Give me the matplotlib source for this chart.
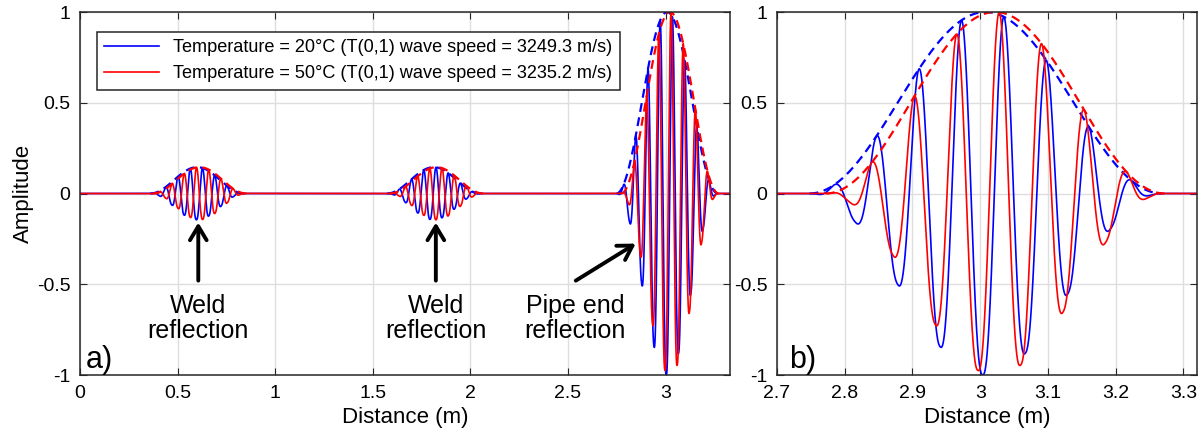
import numpy as np
import matplotlib
matplotlib.use("Agg")
import matplotlib.pyplot as plt

plt.rcParams["font.family"] = ["Liberation Sans", "DejaVu Sans"]

# Reflections: weld 1, weld 2, pipe end
amplitude = [0.145, 0.145, 1.0]
centre_20C = [0.600, 1.812, 3.008]   # envelope centre (m)
centre_50C = [0.612, 1.826, 3.022]
crest_20C = [0.565, 1.761, 3.035]    # a carrier crest position (m)
crest_50C = [0.597, 1.792, 3.028]
width_20C = [0.48, 0.48, 0.52]       # envelope length (m)
width_50C = [0.48, 0.48, 0.50]
wavelength = 0.0628                  # T(0,1) carrier wavelength (m)
crest_sharpness = 1.25               # crests look narrower than troughs

labels = ["Temperature = 20°C (T(0,1) wave speed = 3249.3 m/s)",
          "Temperature = 50°C (T(0,1) wave speed = 3235.2 m/s)"]
colors = ["#0000ff", "#ff0000"]

x = np.linspace(0, 3.33, 30000)


def hann(x, c, w):
    u = (x - c) / w
    return np.where(np.abs(u) <= 0.5, 0.5 * (1 + np.cos(2 * np.pi * u)), 0.0)


def trace(centres, crests, widths):
    sig = np.zeros_like(x)
    envs = []
    for a, c, k, w in zip(amplitude, centres, crests, widths):
        env = a * hann(x, c, w)
        carrier = 0.5 * (1 + np.cos(2 * np.pi * (x - k) / wavelength))
        sig += env * (2 * carrier ** crest_sharpness - 1)
        mask = np.abs(x - c) <= w / 2
        envs.append((x[mask], env[mask]))
    return sig, envs


series = [trace(centre_20C, crest_20C, width_20C),
          trace(centre_50C, crest_50C, width_50C)]

fig = plt.figure(figsize=(12.01, 4.4), dpi=100)
ax1 = fig.add_axes([80 / 1201, 65 / 440, 650 / 1201, 363 / 440])
ax2 = fig.add_axes([777 / 1201, 65 / 440, 420 / 1201, 363 / 440])

for ax in (ax1, ax2):
    handles = []
    for (sig, envs), col, lab in zip(series, colors, labels):
        h, = ax.plot(x, sig, color=col, lw=1.2, label=lab)
        handles.append(h)
        for ex, ey in envs:
            ax.plot(ex, ey, color=col, lw=1.6, ls=(0, (4, 2.5)))
    ax.set_ylim(-1, 1)
    ax.set_yticks([-1, -0.5, 0, 0.5, 1])
    ax.set_yticklabels(["-1", "-0.5", "0", "0.5", "1"])
    ax.grid(True, color="#dedede", lw=1)
    ax.set_axisbelow(True)
    ax.tick_params(direction="in", top=True, right=True, length=5,
                   labelsize=14, color="#262626", pad=7)
    for s in ax.spines.values():
        s.set_color("#262626")
        s.set_linewidth(1.1)
    ax.set_xlabel("Distance (m)", fontsize=16, labelpad=4)

ax1.set_xlim(0, 3.33)
ax1.set_xticks([0, 0.5, 1, 1.5, 2, 2.5, 3])
ax1.set_xticklabels(["0", "0.5", "1", "1.5", "2", "2.5", "3"])
ax1.set_ylabel("Amplitude", fontsize=16, labelpad=2)
ax2.set_xlim(2.7, 3.32)
ax2.set_xticks([2.7, 2.8, 2.9, 3.0, 3.1, 3.2, 3.3])
ax2.set_xticklabels(["2.7", "2.8", "2.9", "3", "3.1", "3.2", "3.3"])

leg = ax1.legend(handles=handles, loc="upper left", bbox_to_anchor=(0.026, 0.945),
                 borderaxespad=0, fontsize=13.1, handlelength=3.0, fancybox=False,
                 framealpha=1, edgecolor="#262626")
leg.get_frame().set_linewidth(1.1)

arrow = dict(arrowstyle="->,head_length=0.5,head_width=0.3", lw=2.8, color="k",
             mutation_scale=20, shrinkA=0, shrinkB=0)
for tx, ty, hx, hy, txt in [(0.606, -0.48, 0.606, -0.16, "Weld\nreflection"),
                            (1.823, -0.48, 1.823, -0.16, "Weld\nreflection"),
                            (2.54, -0.48, 2.847, -0.276, "Pipe end\nreflection")]:
    ax1.annotate("", xy=(hx, hy), xytext=(tx, ty), arrowprops=arrow)
    ax1.text(tx - 0.005 if txt.startswith("Pipe") else tx, -0.69, txt, ha="center",
             va="center", fontsize=18, linespacing=1.05)

ax1.text(0.1, -0.92, "a)", fontsize=22, ha="center", va="center")
ax2.text(2.738, -0.92, "b)", fontsize=22, ha="center", va="center")

fig.savefig("out.png", dpi=100)
